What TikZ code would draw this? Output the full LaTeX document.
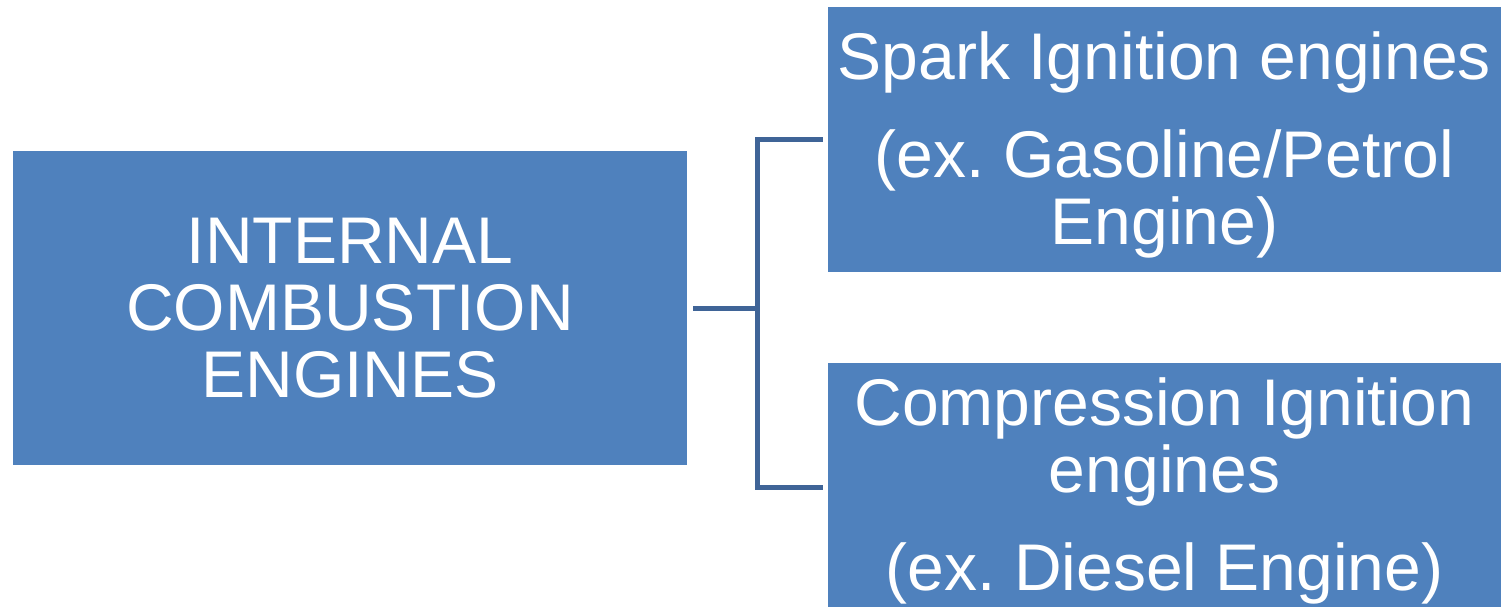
\documentclass[tikz,border=0pt]{standalone}
\usepackage{fontspec}
\setmainfont{Liberation Sans}
\frenchspacing
\definecolor{boxblue}{HTML}{4F81BD}
\definecolor{lineblue}{HTML}{3F6497}

\begin{document}
\begin{tikzpicture}[x=0.5pt,y=-0.5pt]
      \tikzstyle{bloc}=[rectangle, fill=boxblue, text=white, inner sep=0pt, align=center, font=\fontsize{33}{33.5}\selectfont]
      \tikzstyle{ligne}=[draw=lineblue, line width=2.5pt]

      \clip (0,0) rectangle (1505,606);
      \node[bloc, minimum width=337pt, minimum height=157pt] (ICE) at (350,308) {INTERNAL\\COMBUSTION\\ENGINES};
      \node[bloc, minimum width=336.5pt, minimum height=132.5pt] (Spark) at (1164.5,139.5) {\rule{0pt}{29pt}Spark Ignition engines\\[15.5pt](ex. Gasoline/Petrol\\Engine)};
      \node[bloc, minimum width=336.5pt, minimum height=128pt] (Compr) at (1164.5,491) {Compression Ignition\\engines\\[15.5pt](ex. Diesel Engine)};
      \coordinate (Split) at (757,308);
      \draw[ligne] ([xshift=3pt]ICE.east) -- (Split);
      \draw[ligne] ([xshift=-2.5pt]Spark.west) -| (Split) |- ([xshift=-2.5pt,yshift=2pt]Compr.west);

    \end{tikzpicture}
\end{document}
